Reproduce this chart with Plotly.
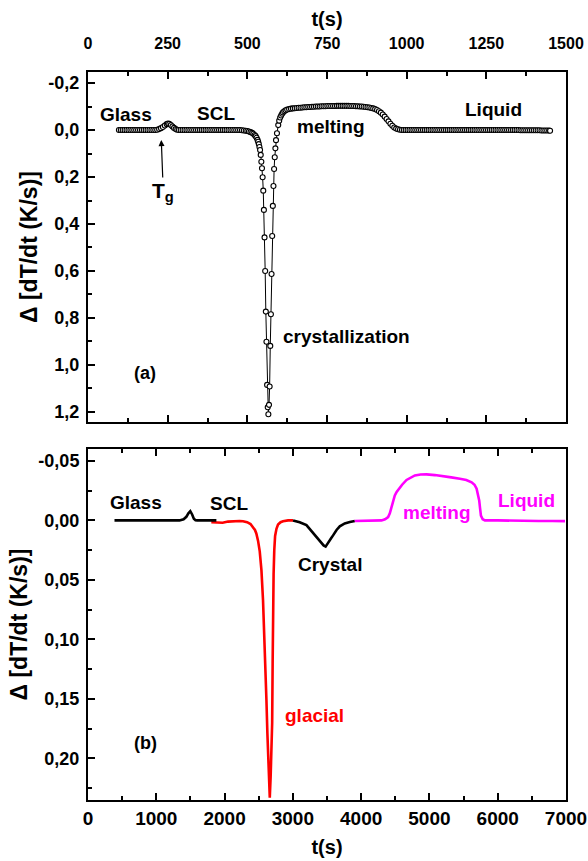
import plotly.graph_objects as go

FONT = "Liberation Sans, Arial, Helvetica, sans-serif"

# ---------------- Panel (a): time (s) and Delta[dT/dt] (K/s) ----------------
t_a = [97, 103, 109, 115, 121, 127, 133, 139, 145, 151, 157, 163, 169, 175, 181, 187, 193, 199, 205, 211,
       217, 223, 229, 235, 241, 247, 251, 255, 260, 265, 270, 275, 280, 285,
       291, 297, 303, 309, 315, 321, 327, 333, 339, 345, 351, 357, 363, 369, 375, 381, 387, 393, 399, 405,
       411, 417, 423, 429, 435, 441, 447, 453, 459, 465, 471, 477,
       483, 489, 495, 500, 505, 510, 515, 519, 523, 526, 529, 532, 534, 536, 538,
       540, 542, 544, 546, 548, 550, 552, 554, 556, 558, 560, 562, 564, 566,
       568, 570, 572, 574, 576, 578, 580, 582, 584, 586, 588, 590, 593, 597,
       600, 603, 606, 609, 612, 616, 620, 625, 631, 637, 643,
       649, 655, 661, 667, 673, 679, 685, 691, 697, 703, 709, 715, 721, 727, 733, 739, 745, 751, 757, 763,
       769, 775, 781, 787, 793, 799, 805, 811, 817, 823, 829, 835, 841, 847, 853, 859, 865, 871, 877, 883,
       889, 895, 901, 907, 913, 919, 925, 931, 937, 943, 949, 955, 961, 967, 973, 979, 985,
       991, 997, 1003, 1009, 1015, 1021, 1027, 1033, 1039, 1045, 1051, 1057, 1063, 1069, 1075, 1081, 1087,
       1093, 1099, 1105, 1111, 1117, 1123, 1129, 1135, 1141, 1147, 1153, 1159, 1165, 1171, 1177, 1183, 1189,
       1195, 1201, 1207, 1213, 1219, 1225, 1231, 1237, 1243, 1249, 1255, 1261, 1267, 1273, 1279, 1285, 1291,
       1297, 1303, 1309, 1315, 1321, 1327, 1333, 1339, 1345, 1351, 1357, 1363, 1369, 1375, 1381, 1387, 1393,
       1399, 1405, 1411, 1417, 1423, 1429, 1435, 1441, 1447, 1450]
dT_a = [0.0, 0.0, 0.0, 0.0, 0.0, 0.0, 0.0, 0.0, 0.0, 0.0, 0.0, 0.0, 0.0, 0.0, 0.0, 0.0, 0.0, 0.0, 0.0, 0.0,
        -0.001, -0.004, -0.008, -0.013, -0.019, -0.025, -0.028, -0.026, -0.021, -0.015, -0.009, -0.004, -0.001, 0.0,
        0.0, 0.0, 0.0, 0.0, 0.0, 0.0, 0.0, 0.0, 0.0, 0.0, 0.0, 0.0, 0.0, 0.0, 0.0, 0.0, 0.0, 0.0, 0.0, 0.0,
        0.0, 0.0, 0.0, 0.0, 0.0, 0.0, 0.0, 0.0, 0.0, 0.0, 0.0, 0.0,
        0.001, 0.002, 0.003, 0.004, 0.006, 0.009, 0.012, 0.016, 0.021, 0.026, 0.033, 0.042, 0.05, 0.06, 0.072,
        0.085, 0.106, 0.135, 0.163, 0.201, 0.258, 0.34, 0.457, 0.6, 0.773, 0.901, 1.085, 1.18, 1.21,
        1.17, 1.092, 0.919, 0.784, 0.613, 0.451, 0.323, 0.238, 0.166, 0.116, 0.078, 0.043, 0.014, -0.021,
        -0.04, -0.053, -0.062, -0.069, -0.075, -0.08, -0.084, -0.087, -0.089, -0.091, -0.092,
        -0.093, -0.094, -0.095, -0.095, -0.096, -0.097, -0.097, -0.098, -0.098, -0.099, -0.099, -0.1, -0.1, -0.1,
        -0.101, -0.101, -0.101, -0.102, -0.102, -0.102,
        -0.102, -0.102, -0.103, -0.103, -0.103, -0.103, -0.103, -0.103, -0.103, -0.102, -0.102, -0.102, -0.101,
        -0.101, -0.1, -0.1, -0.099, -0.098, -0.097, -0.096,
        -0.094, -0.092, -0.089, -0.085, -0.08, -0.074, -0.066, -0.057, -0.047, -0.037, -0.027, -0.018, -0.011,
        -0.006, -0.003, -0.001, 0.0,
        0.0, 0.0, 0.0, 0.0, 0.0, 0.0, 0.0, 0.0, 0.0, 0.0, 0.0, 0.0, 0.0, 0.0, 0.0, 0.0, 0.0,
        0.0, 0.0, 0.0, 0.0, 0.0, 0.0, 0.0, 0.0, 0.0, 0.0, 0.0, 0.0, 0.0, 0.0, 0.0, 0.0, 0.0,
        0.0, 0.0, 0.0, 0.0, 0.0, 0.0, 0.0, 0.0, 0.0, 0.0, 0.0, 0.0, 0.0, 0.0, 0.0, 0.0, 0.0,
        0.0, 0.0, 0.0, 0.0, 0.0, 0.0, 0.0, 0.0, 0.0, 0.0, 0.001, 0.001, 0.001, 0.001, 0.001, 0.001, 0.001,
        0.001, 0.001, 0.001, 0.001, 0.002, 0.002, 0.002, 0.002, 0.002, 0.003]

# ---------------- Panel (b): segments ----------------
t_b_glass = [388, 500, 700, 900, 1100, 1300, 1340, 1400, 1440, 1470, 1498, 1525, 1550, 1575, 1600, 1700, 1800, 1880]
dT_b_glass = [0.0, 0.0, 0.0, 0.0, 0.0, 0.0, 0.0, -0.001, -0.003, -0.006, -0.0078, -0.005, -0.0015, -0.0002,
              0.0, 0.0, 0.0, 0.0]

t_b_glacial = [1806, 1900, 1972, 2050, 2150, 2220, 2270, 2330, 2380, 2417, 2445, 2465, 2490, 2515, 2540, 2563,
               2582, 2598, 2613, 2627, 2645, 2662, 2675, 2685, 2697, 2704, 2710, 2718, 2728, 2740, 2760, 2783,
               2820, 2856, 2930, 3003]
dT_b_glacial = [0.0015, 0.002, 0.002, 0.001, 0.0005, 0.0005, 0.0007, 0.0015, 0.003, 0.0056, 0.008, 0.011, 0.017,
                0.026, 0.042, 0.067, 0.095, 0.123, 0.151, 0.179, 0.21, 0.233, 0.215, 0.198, 0.17, 0.12, 0.067,
                0.045, 0.025, 0.013, 0.007, 0.0035, 0.0015, 0.0007, 0.0, 0.0]

t_b_crystal = [3003, 3100, 3199, 3260, 3320, 3400, 3450, 3480, 3520, 3560, 3589, 3640, 3687, 3760, 3834, 3907]
dT_b_crystal = [0.0, 0.0015, 0.004, 0.008, 0.0126, 0.018, 0.021, 0.022, 0.019, 0.015, 0.0126, 0.008, 0.005,
                0.0025, 0.0014, 0.0005]

t_b_melt = [3907, 4000, 4100, 4200, 4298, 4350, 4395, 4420, 4445, 4470, 4493, 4520, 4542, 4600, 4665, 4720,
            4787, 4870, 4958, 5080, 5202, 5320, 5446, 5540, 5618, 5660, 5691, 5712, 5729, 5740, 5754, 5780,
            5813, 6000, 6200, 6400, 6600, 6800, 6985]
dT_b_melt = [0.0005, 0.0005, 0.0004, 0.0003, 0.0, -0.001, -0.0028, -0.006, -0.011, -0.017, -0.021, -0.024,
             -0.0258, -0.03, -0.034, -0.036, -0.0378, -0.0386, -0.0387, -0.0381, -0.0373, -0.0362, -0.035,
             -0.034, -0.032, -0.03, -0.0266, -0.022, -0.0168, -0.011, -0.004, -0.001, 0.0, 0.0, 0.0003,
             0.0003, 0.0005, 0.0005, 0.0006]

# ---------------- Ticks ----------------
xa_ticks = [0, 250, 500, 750, 1000, 1250, 1500]
xa_minor = [125, 375, 625, 875, 1125, 1375]
ya_ticks = [-0.2, 0.0, 0.2, 0.4, 0.6, 0.8, 1.0, 1.2]
ya_text = ["-0,2", "0,0", "0,2", "0,4", "0,6", "0,8", "1,0", "1,2"]
ya_minor = [-0.1, 0.1, 0.3, 0.5, 0.7, 0.9, 1.1]
xb_ticks = [0, 1000, 2000, 3000, 4000, 5000, 6000, 7000]
xb_minor = [500, 1500, 2500, 3500, 4500, 5500, 6500]
yb_ticks = [-0.05, 0.0, 0.05, 0.10, 0.15, 0.20]
yb_text = ["-0,05", "0,00", "0,05", "0,10", "0,15", "0,20"]
yb_minor = [-0.025, 0.025, 0.075, 0.125, 0.175, 0.225]

RED = "#FF0000"
MAG = "#FF00FF"

fig = go.Figure()
fig.add_trace(go.Scatter(
    x=t_a, y=dT_a, mode="lines+markers", xaxis="x", yaxis="y",
    line=dict(color="black", width=1),
    marker=dict(symbol="circle", size=5, color="white", line=dict(color="black", width=1.1)),
    showlegend=False, hoverinfo="skip"))
fig.add_trace(go.Scatter(x=t_b_glacial, y=dT_b_glacial, mode="lines", xaxis="x2", yaxis="y2",
                         line=dict(color=RED, width=2.6), showlegend=False))
fig.add_trace(go.Scatter(x=t_b_glass, y=dT_b_glass, mode="lines", xaxis="x2", yaxis="y2",
                         line=dict(color="black", width=2.6), showlegend=False))
fig.add_trace(go.Scatter(x=t_b_crystal, y=dT_b_crystal, mode="lines", xaxis="x2", yaxis="y2",
                         line=dict(color="black", width=2.6), showlegend=False))
fig.add_trace(go.Scatter(x=t_b_melt, y=dT_b_melt, mode="lines", xaxis="x2", yaxis="y2",
                         line=dict(color=MAG, width=2.6), showlegend=False))

common = dict(showgrid=False, zeroline=False, showline=True, linecolor="black", linewidth=2,
              ticks="inside", tickcolor="black", tickwidth=1.5, ticklen=7, automargin=False,
              ticklabeloverflow="allow")
ytitle = dict(text="Δ [dT/dt (K/s)]", font=dict(size=23, family=FONT, weight="bold"), standoff=4)

fig.update_layout(
    template="none",
    width=588, height=861,
    margin=dict(l=88, r=22, t=72, b=61),
    paper_bgcolor="white", plot_bgcolor="white", showlegend=False,
    font=dict(family=FONT, color="black", size=18, weight="bold"),
    xaxis=dict(domain=[0, 1], anchor="y", side="top", range=[0, 1500], tickmode="array", tickvals=xa_ticks,
               mirror="allticks", tickfont=dict(size=16, weight="bold"), ticklabelstandoff=15,
               minor=dict(tickvals=xa_minor, ticks="inside", ticklen=4, tickwidth=1.5, tickcolor="black"),
               title=dict(text="t(s)", font=dict(size=20, weight="bold"), standoff=3), **common),
    yaxis=dict(domain=[0.5192, 1], anchor="x", range=[1.243, -0.247], tickmode="array", tickvals=ya_ticks,
               ticktext=ya_text, mirror=True, tickfont=dict(size=18, weight="bold"), ticklabelstandoff=3,
               minor=dict(tickvals=ya_minor, ticks="inside", ticklen=4, tickwidth=1.5, tickcolor="black"),
               title=ytitle, **common),
    xaxis2=dict(domain=[0, 1], anchor="y2", side="bottom", range=[0, 7000], tickmode="array", tickvals=xb_ticks,
                mirror="allticks", tickfont=dict(size=19, weight="bold"),
                minor=dict(tickvals=xb_minor, ticks="inside", ticklen=4, tickwidth=1.5, tickcolor="black"),
                title=dict(text="t(s)", font=dict(size=20, weight="bold"), standoff=12), **common),
    yaxis2=dict(domain=[0, 0.4821], anchor="x2", range=[0.235, -0.06], tickmode="array", tickvals=yb_ticks,
                ticktext=yb_text, mirror=True, tickfont=dict(size=18, weight="bold"), ticklabelstandoff=3,
                minor=dict(tickvals=yb_minor, ticks="inside", ticklen=4, tickwidth=1.5, tickcolor="black"),
                title=ytitle, **common),
)

lab = dict(showarrow=False, font=dict(family=FONT, size=19, color="black", weight="bold"),
           xanchor="center", yanchor="middle")
ann_a = [
    ("Glass", 118, -0.068), ("SCL", 403, -0.072), ("melting", 763, -0.013),
    ("Liquid", 1273, -0.089), ("crystallization", 811, 0.877),
]
for txt, x, y in ann_a:
    fig.add_annotation(text=txt, x=x, y=y, xref="x", yref="y", **lab)
fig.add_annotation(text="(a)", x=180, y=1.034, xref="x", yref="y",
                   **{**lab, "font": dict(family=FONT, size=18, color="black", weight="bold")})
fig.add_annotation(text="T<sub>g</sub>", x=230, y=0.0426, xref="x", yref="y", showarrow=True,
                   ax=2, ay=52, arrowhead=2, arrowsize=1, arrowwidth=1.2, arrowcolor="black",
                   font=dict(family=FONT, size=21, color="black", weight="bold"))

ann_b = [
    ("Glass", 707, -0.0151, "black"), ("SCL", 2070, -0.0143, "black"), ("Crystal", 3540, 0.037, "black"),
    ("melting", 5104, -0.0067, MAG), ("Liquid", 6424, -0.017, MAG), ("glacial", 3313, 0.1639, RED),
]
for txt, x, y, c in ann_b:
    fig.add_annotation(text=txt, x=x, y=y, xref="x2", yref="y2",
                       **{**lab, "font": dict(family=FONT, size=19, color=c, weight="bold")})
fig.add_annotation(text="(b)", x=843, y=0.1874, xref="x2", yref="y2",
                   **{**lab, "font": dict(family=FONT, size=18, color="black", weight="bold")})

# remove the browser's default 8 px body margin so the figure fills the window exactly
fig.write_html("out.html", config={"displayModeBar": False},
               post_script="document.body.style.margin='0';document.body.style.overflow='hidden';")
